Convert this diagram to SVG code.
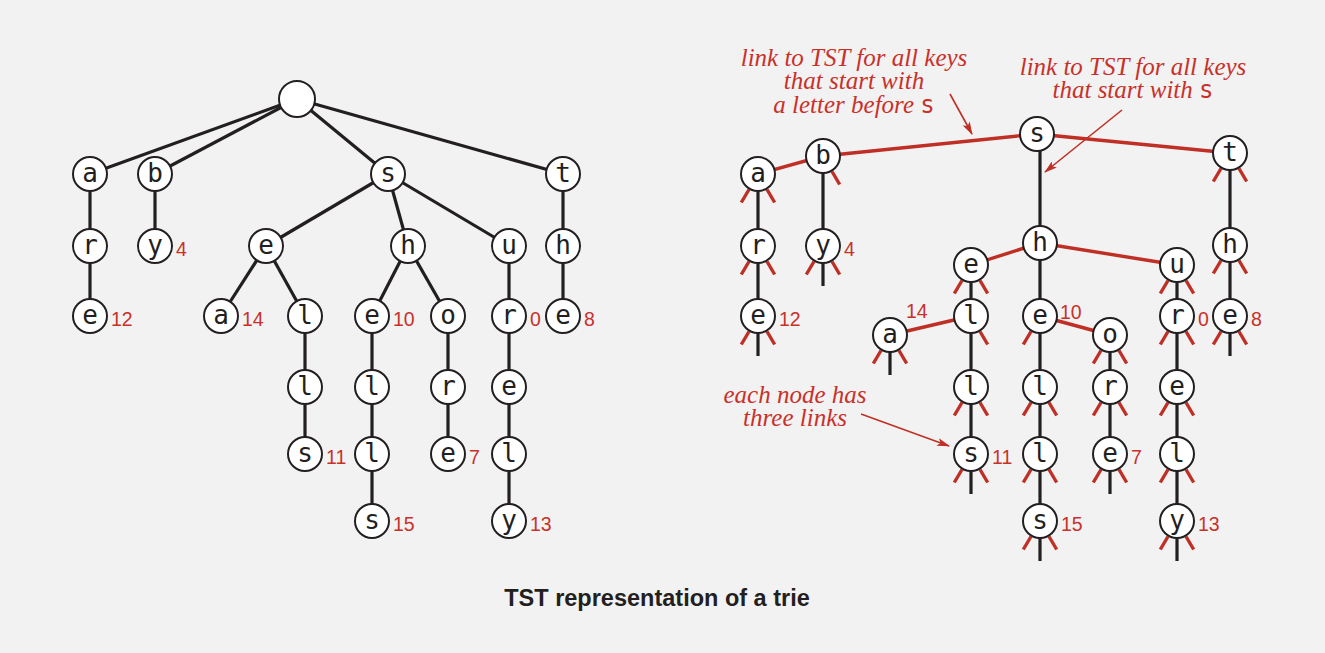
<svg xmlns="http://www.w3.org/2000/svg" xmlns:xlink="http://www.w3.org/1999/xlink" width="1325" height="653" viewBox="0 0 1325 653">
<style>
.bg{fill:#f2f2f2}
.e{stroke:#231f20;stroke-width:3.2;fill:none}
.r{stroke:#bf2f25;stroke-width:3.4;fill:none}
.n circle{fill:#fff;stroke:#231f20;stroke-width:2}
.k{font-family:"DejaVu Sans Mono",monospace;font-size:26px;fill:#231f20;text-anchor:middle}
.v{font-family:"Liberation Sans",Arial,sans-serif;font-size:19.5px;fill:#c8312a}
.ann{font-family:"Liberation Serif","Times New Roman",serif;font-style:italic;font-size:25px;fill:#c8312a;text-anchor:middle}
.mono{font-family:"DejaVu Sans Mono",monospace;font-style:normal;font-size:24px}
.arr{stroke:#bf2f25;stroke-width:1.6;fill:none}
.cap{font-family:"Liberation Sans",Arial,sans-serif;font-weight:bold;font-size:23.5px;fill:#231f20;text-anchor:middle}
</style>
<defs>
<marker id="ah" markerWidth="13" markerHeight="8" refX="12" refY="4" orient="auto" markerUnits="userSpaceOnUse">
<path d="M0,0 L13,4 L0,8 L3,4 z" fill="#bf2f25"/>
</marker>
<line id="sl" class="r" x1="-9" y1="15.5" x2="-16.7" y2="28.5"/>
<line id="sr" class="r" x1="9" y1="15.5" x2="16.7" y2="28.5"/>
<line id="sm" class="e" x1="0" y1="17" x2="0" y2="40"/>
</defs>
<rect class="bg" x="0" y="0" width="1325" height="653"/>

<!-- LEFT TRIE connectors -->
<g id="left-connectors">
<line class="e" x1="297" y1="99" x2="90" y2="174"/>
<line class="e" x1="297" y1="99" x2="155" y2="174"/>
<line class="e" x1="297" y1="99" x2="388" y2="174"/>
<line class="e" x1="297" y1="99" x2="563" y2="174"/>
<line class="e" x1="90" y1="174" x2="90" y2="316"/>
<line class="e" x1="155" y1="174" x2="155" y2="246"/>
<line class="e" x1="388" y1="174" x2="266" y2="246"/>
<line class="e" x1="388" y1="174" x2="408" y2="246"/>
<line class="e" x1="388" y1="174" x2="509" y2="246"/>
<line class="e" x1="563" y1="174" x2="563" y2="316"/>
<line class="e" x1="266" y1="246" x2="221" y2="316"/>
<line class="e" x1="266" y1="246" x2="305" y2="316"/>
<line class="e" x1="305" y1="316" x2="305" y2="454"/>
<line class="e" x1="408" y1="246" x2="372" y2="316"/>
<line class="e" x1="408" y1="246" x2="448" y2="316"/>
<line class="e" x1="372" y1="316" x2="372" y2="521"/>
<line class="e" x1="448" y1="316" x2="448" y2="454"/>
<line class="e" x1="509" y1="246" x2="509" y2="521"/>
</g>

<!-- LEFT TRIE nodes -->
<g id="L-root" class="n"><circle cx="297" cy="99" r="18"/></g>
<g id="L-a" class="n"><circle cx="90" cy="174" r="17"/><text class="k" x="90" y="182">a</text></g>
<g id="L-b" class="n"><circle cx="155" cy="174" r="17"/><text class="k" x="155" y="182">b</text></g>
<g id="L-s" class="n"><circle cx="388" cy="174" r="17"/><text class="k" x="388" y="182">s</text></g>
<g id="L-t" class="n"><circle cx="563" cy="174" r="17"/><text class="k" x="563" y="182">t</text></g>
<g id="L-ar" class="n"><circle cx="90" cy="246" r="17"/><text class="k" x="90" y="254">r</text></g>
<g id="L-by" class="n"><circle cx="155" cy="246" r="17"/><text class="k" x="155" y="254">y</text><text class="v" x="176" y="256">4</text></g>
<g id="L-se" class="n"><circle cx="266" cy="246" r="17"/><text class="k" x="266" y="254">e</text></g>
<g id="L-sh" class="n"><circle cx="408" cy="246" r="17"/><text class="k" x="408" y="254">h</text></g>
<g id="L-su" class="n"><circle cx="509" cy="246" r="17"/><text class="k" x="509" y="254">u</text></g>
<g id="L-th" class="n"><circle cx="563" cy="246" r="17"/><text class="k" x="563" y="254">h</text></g>
<g id="L-are" class="n"><circle cx="90" cy="316" r="17"/><text class="k" x="90" y="324">e</text><text class="v" x="111" y="326">12</text></g>
<g id="L-sea" class="n"><circle cx="221" cy="316" r="17"/><text class="k" x="221" y="324">a</text><text class="v" x="242" y="326">14</text></g>
<g id="L-sel" class="n"><circle cx="305" cy="316" r="17"/><text class="k" x="305" y="324">l</text></g>
<g id="L-she" class="n"><circle cx="372" cy="316" r="17"/><text class="k" x="372" y="324">e</text><text class="v" x="393" y="326">10</text></g>
<g id="L-sho" class="n"><circle cx="448" cy="316" r="17"/><text class="k" x="448" y="324">o</text></g>
<g id="L-sur" class="n"><circle cx="509" cy="316" r="17"/><text class="k" x="509" y="324">r</text><text class="v" x="530" y="326">0</text></g>
<g id="L-the" class="n"><circle cx="563" cy="316" r="17"/><text class="k" x="563" y="324">e</text><text class="v" x="584" y="326">8</text></g>
<g id="L-sell" class="n"><circle cx="305" cy="387" r="17"/><text class="k" x="305" y="395">l</text></g>
<g id="L-shel" class="n"><circle cx="372" cy="387" r="17"/><text class="k" x="372" y="395">l</text></g>
<g id="L-shor" class="n"><circle cx="448" cy="387" r="17"/><text class="k" x="448" y="395">r</text></g>
<g id="L-sure" class="n"><circle cx="509" cy="387" r="17"/><text class="k" x="509" y="395">e</text></g>
<g id="L-sells" class="n"><circle cx="305" cy="454" r="17"/><text class="k" x="305" y="462">s</text><text class="v" x="326" y="464">11</text></g>
<g id="L-shell" class="n"><circle cx="372" cy="454" r="17"/><text class="k" x="372" y="462">l</text></g>
<g id="L-shore" class="n"><circle cx="448" cy="454" r="17"/><text class="k" x="448" y="462">e</text><text class="v" x="469" y="464">7</text></g>
<g id="L-surel" class="n"><circle cx="509" cy="454" r="17"/><text class="k" x="509" y="462">l</text></g>
<g id="L-shells" class="n"><circle cx="372" cy="521" r="17"/><text class="k" x="372" y="529">s</text><text class="v" x="393" y="531">15</text></g>
<g id="L-surely" class="n"><circle cx="509" cy="521" r="17"/><text class="k" x="509" y="529">y</text><text class="v" x="530" y="531">13</text></g>

<!-- RIGHT TST connectors -->
<g id="right-connectors">
<line class="r" x1="1037" y1="134" x2="823" y2="156"/>
<line class="r" x1="823" y1="156" x2="758" y2="174"/>
<line class="r" x1="1037" y1="134" x2="1230" y2="153"/>
<line class="e" x1="1040" y1="140" x2="1040" y2="243"/>
<line class="e" x1="823" y1="156" x2="823" y2="246"/>
<line class="e" x1="758" y1="174" x2="758" y2="316"/>
<line class="e" x1="1230" y1="153" x2="1230" y2="316"/>
<line class="r" x1="1040" y1="243" x2="971" y2="265"/>
<line class="r" x1="1040" y1="243" x2="1177" y2="265"/>
<line class="e" x1="1040" y1="243" x2="1040" y2="521"/>
<line class="e" x1="971" y1="265" x2="971" y2="454"/>
<line class="r" x1="971" y1="316" x2="890" y2="335"/>
<line class="r" x1="1040" y1="316" x2="1110" y2="335"/>
<line class="e" x1="1110" y1="335" x2="1110" y2="454"/>
<line class="e" x1="1177" y1="265" x2="1177" y2="521"/>
</g>

<!-- RIGHT TST nodes -->
<g id="R-s" class="n"><circle cx="1037" cy="134" r="17"/><text class="k" x="1037" y="142">s</text></g>
<g id="R-b" class="n"><use href="#sr" x="823" y="156"/><circle cx="823" cy="156" r="17"/><text class="k" x="823" y="164">b</text></g>
<g id="R-a" class="n"><use href="#sl" x="758" y="174"/><use href="#sr" x="758" y="174"/><circle cx="758" cy="174" r="17"/><text class="k" x="758" y="182">a</text></g>
<g id="R-t" class="n"><use href="#sl" x="1230" y="153"/><use href="#sr" x="1230" y="153"/><circle cx="1230" cy="153" r="17"/><text class="k" x="1230" y="161">t</text></g>
<g id="R-ar" class="n"><use href="#sl" x="758" y="246"/><use href="#sr" x="758" y="246"/><circle cx="758" cy="246" r="17"/><text class="k" x="758" y="254">r</text></g>
<g id="R-by" class="n"><use href="#sl" x="823" y="246"/><use href="#sr" x="823" y="246"/><use href="#sm" x="823" y="246"/><circle cx="823" cy="246" r="17"/><text class="k" x="823" y="254">y</text><text class="v" x="844" y="256">4</text></g>
<g id="R-h" class="n"><circle cx="1040" cy="243" r="17"/><text class="k" x="1040" y="251">h</text></g>
<g id="R-th" class="n"><use href="#sl" x="1230" y="245"/><use href="#sr" x="1230" y="245"/><circle cx="1230" cy="245" r="17"/><text class="k" x="1230" y="253">h</text></g>
<g id="R-se" class="n"><use href="#sl" x="971" y="265"/><use href="#sr" x="971" y="265"/><circle cx="971" cy="265" r="17"/><text class="k" x="971" y="273">e</text></g>
<g id="R-su" class="n"><use href="#sl" x="1177" y="265"/><use href="#sr" x="1177" y="265"/><circle cx="1177" cy="265" r="17"/><text class="k" x="1177" y="273">u</text></g>
<g id="R-are" class="n"><use href="#sl" x="758" y="316"/><use href="#sr" x="758" y="316"/><use href="#sm" x="758" y="316"/><circle cx="758" cy="316" r="17"/><text class="k" x="758" y="324">e</text><text class="v" x="779" y="326">12</text></g>
<g id="R-sel" class="n"><use href="#sr" x="971" y="316"/><circle cx="971" cy="316" r="17"/><text class="k" x="971" y="324">l</text></g>
<g id="R-she" class="n"><use href="#sl" x="1040" y="316"/><circle cx="1040" cy="316" r="17"/><text class="k" x="1040" y="324">e</text><text class="v" x="1060" y="319">10</text></g>
<g id="R-sur" class="n"><use href="#sl" x="1177" y="316"/><use href="#sr" x="1177" y="316"/><circle cx="1177" cy="316" r="17"/><text class="k" x="1177" y="324">r</text><text class="v" x="1198" y="326">0</text></g>
<g id="R-the" class="n"><use href="#sl" x="1230" y="316"/><use href="#sr" x="1230" y="316"/><use href="#sm" x="1230" y="316"/><circle cx="1230" cy="316" r="17"/><text class="k" x="1230" y="324">e</text><text class="v" x="1251" y="326">8</text></g>
<g id="R-sea" class="n"><use href="#sl" x="890" y="335"/><use href="#sr" x="890" y="335"/><use href="#sm" x="890" y="335"/><circle cx="890" cy="335" r="17"/><text class="k" x="890" y="343">a</text><text class="v" x="906" y="318">14</text></g>
<g id="R-sho" class="n"><use href="#sl" x="1110" y="335"/><use href="#sr" x="1110" y="335"/><circle cx="1110" cy="335" r="17"/><text class="k" x="1110" y="343">o</text></g>
<g id="R-sell" class="n"><use href="#sl" x="971" y="387"/><use href="#sr" x="971" y="387"/><circle cx="971" cy="387" r="17"/><text class="k" x="971" y="395">l</text></g>
<g id="R-shel" class="n"><use href="#sl" x="1040" y="387"/><use href="#sr" x="1040" y="387"/><circle cx="1040" cy="387" r="17"/><text class="k" x="1040" y="395">l</text></g>
<g id="R-shor" class="n"><use href="#sl" x="1110" y="387"/><use href="#sr" x="1110" y="387"/><circle cx="1110" cy="387" r="17"/><text class="k" x="1110" y="395">r</text></g>
<g id="R-sure" class="n"><use href="#sl" x="1177" y="387"/><use href="#sr" x="1177" y="387"/><circle cx="1177" cy="387" r="17"/><text class="k" x="1177" y="395">e</text></g>
<g id="R-sells" class="n"><use href="#sl" x="971" y="454"/><use href="#sr" x="971" y="454"/><use href="#sm" x="971" y="454"/><circle cx="971" cy="454" r="17"/><text class="k" x="971" y="462">s</text><text class="v" x="992" y="464">11</text></g>
<g id="R-shell" class="n"><use href="#sl" x="1040" y="454"/><use href="#sr" x="1040" y="454"/><circle cx="1040" cy="454" r="17"/><text class="k" x="1040" y="462">l</text></g>
<g id="R-shore" class="n"><use href="#sl" x="1110" y="454"/><use href="#sr" x="1110" y="454"/><use href="#sm" x="1110" y="454"/><circle cx="1110" cy="454" r="17"/><text class="k" x="1110" y="462">e</text><text class="v" x="1131" y="464">7</text></g>
<g id="R-surel" class="n"><use href="#sl" x="1177" y="454"/><use href="#sr" x="1177" y="454"/><circle cx="1177" cy="454" r="17"/><text class="k" x="1177" y="462">l</text></g>
<g id="R-shells" class="n"><use href="#sl" x="1040" y="521"/><use href="#sr" x="1040" y="521"/><use href="#sm" x="1040" y="521"/><circle cx="1040" cy="521" r="17"/><text class="k" x="1040" y="529">s</text><text class="v" x="1061" y="531">15</text></g>
<g id="R-surely" class="n"><use href="#sl" x="1177" y="521"/><use href="#sr" x="1177" y="521"/><use href="#sm" x="1177" y="521"/><circle cx="1177" cy="521" r="17"/><text class="k" x="1177" y="529">y</text><text class="v" x="1198" y="531">13</text></g>

<!-- annotations -->
<g id="annotations">
<text class="ann" x="854" y="66">link to TST for all keys</text>
<text class="ann" x="854" y="89">that start with</text>
<text class="ann" x="854" y="113">a letter before <tspan class="mono">s</tspan></text>
<line class="arr" x1="950" y1="94" x2="972" y2="134" marker-end="url(#ah)"/>
<text class="ann" x="1133" y="75">link to TST for all keys</text>
<text class="ann" x="1133" y="98">that start with <tspan class="mono">s</tspan></text>
<line class="arr" x1="1122" y1="110" x2="1045" y2="172" marker-end="url(#ah)"/>
<text class="ann" x="795" y="403">each node has</text>
<text class="ann" x="795" y="426">three links</text>
<line class="arr" x1="861" y1="414" x2="949" y2="446" marker-end="url(#ah)"/>
</g>

<text class="cap" x="657" y="606">TST representation of a trie</text>
</svg>
